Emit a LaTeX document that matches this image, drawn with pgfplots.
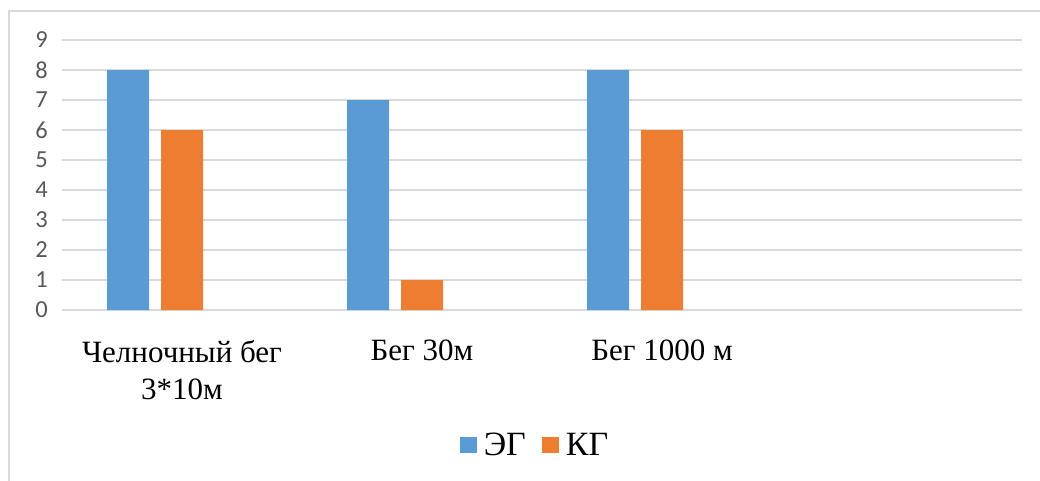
\documentclass[border=0pt]{standalone}
\usepackage{pgfplots}
\pgfplotsset{compat=1.18}
\usepackage{fontspec}
\setmainfont{Liberation Serif}
\newfontfamily\calibri{Carlito}

\definecolor{egblue}{HTML}{5B9BD5}
\definecolor{kgorange}{HTML}{ED7D31}
\definecolor{gridgray}{HTML}{D9D9D9}
\definecolor{ticktext}{HTML}{595959}

\begin{document}
\begin{tikzpicture}
\useasboundingbox (0pt,0pt) rectangle (1040pt,-481pt);
% chart frame
\draw[gridgray, line width=1.5pt] (9pt,-481pt) -- (9pt,-11pt) -- (1040pt,-11pt);
\begin{axis}[
  at={(62pt,-310pt)}, anchor=south west,
  scale only axis,
  width=960pt, height=270pt,
  xmin=0, xmax=4,
  ymin=0, ymax=9,
  ytick={0,1,...,9},
  xtick={0.5,1.5,2.5},
  xticklabels={{Челночный бег\\3*10м},{Бег 30м},{Бег 1000 м}},
  /pgf/number format/assume math mode=true,
  ymajorgrids,
  grid style={gridgray, line width=1.5pt},
  axis line style={draw=none},
  major tick length=0pt,
  tick style={draw=none},
  yticklabel style={font=\calibri\fontsize{24.5}{28}\selectfont, text=ticktext,
                    inner sep=0pt, anchor=east, xshift=-14pt},
  xticklabel style={font=\fontsize{31}{37}\selectfont, align=center,
                    inner sep=0pt, anchor=north, yshift=-30pt},
  ybar, bar width=0.175,
  legend style={at={(axis description cs:0.4927,-0.5)}, anchor=center,
                draw=none, fill=none, legend columns=-1,
                font=\fontsize{34}{38}\selectfont,
                /tikz/every odd column/.append style={column sep=5pt},
                /tikz/every even column/.append style={column sep=14pt}},
  legend image code/.code={\fill[#1] (0pt,-8pt) rectangle (17pt,8pt);},
]
\addplot[fill=egblue, draw=none, bar shift=-0.225]
  coordinates {(0.5,8) (1.5,7) (2.5,8)};
\addlegendentry{ЭГ}
\addplot[fill=kgorange, draw=none, bar shift=0]
  coordinates {(0.5,6) (1.5,1) (2.5,6)};
\addlegendentry{КГ}
\end{axis}
\end{tikzpicture}
\end{document}
